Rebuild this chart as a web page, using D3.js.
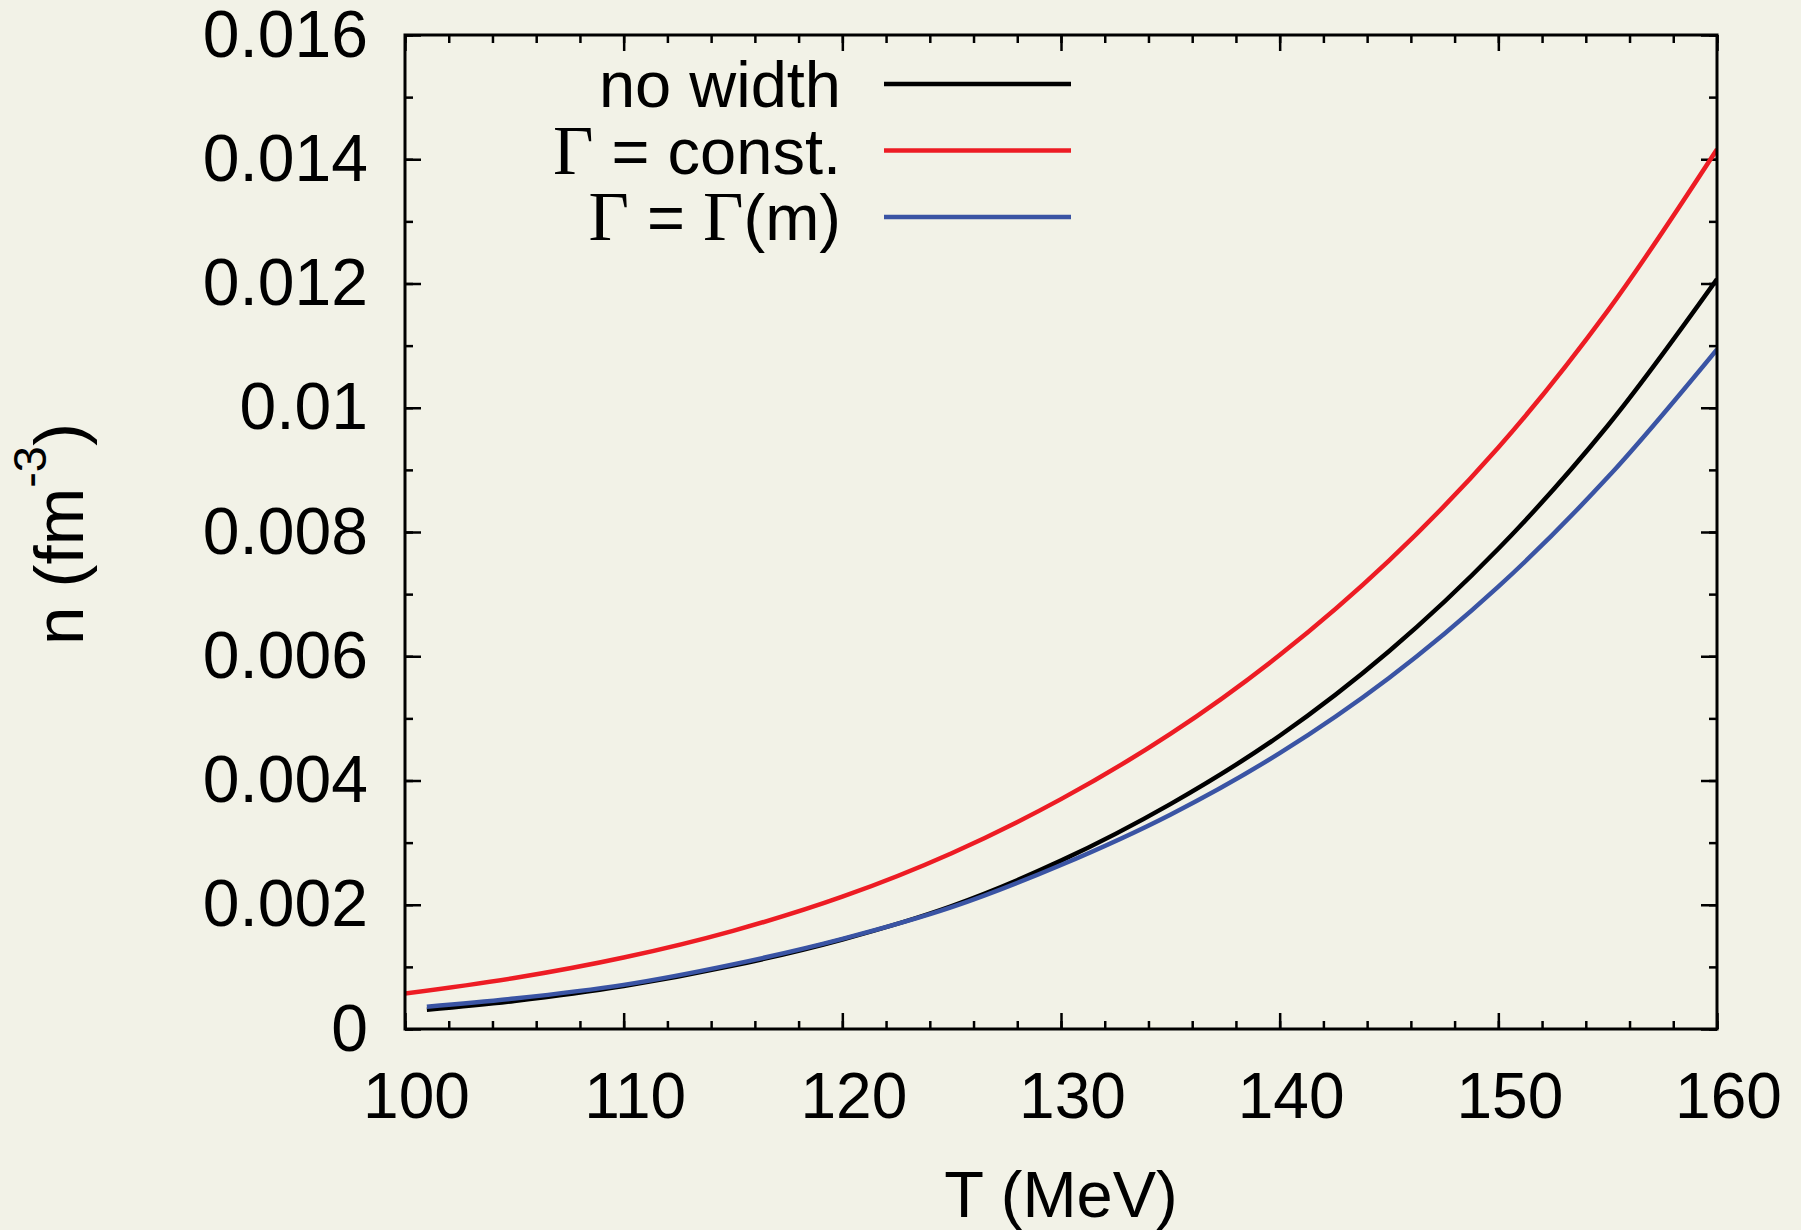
<!DOCTYPE html>
<html>
<head>
<meta charset="utf-8">
<script src="https://cdn.jsdelivr.net/npm/d3@7"></script>
<style>
  html, body { margin: 0; padding: 0; background: #f2f2e7; }
  svg { display: block; }
  text { font-family: "Liberation Sans", Arial, sans-serif; fill: #000; }
</style>
</head>
<body>
<script>
// temperatures (MeV)
const tempsConst = [100, 105, 110, 115, 120, 125, 130, 135, 140, 145, 150, 155, 160];
const tempsWidth = [101, 105, 110, 115, 120, 125, 130, 135, 140, 145, 150, 155, 160];

// densities n (fm^-3)
const nConst   = [0.00057, 0.00082, 0.00115, 0.00158, 0.00213, 0.00283, 0.00370, 0.00475, 0.00602, 0.00754, 0.00936, 0.01156, 0.01416];
const nNoWidth = [0.00031, 0.00045, 0.00069, 0.00102, 0.00144, 0.00198, 0.00271, 0.00362, 0.00472, 0.00608, 0.00773, 0.00971, 0.01207];
const nGammaM  = [0.00036, 0.00049, 0.00071, 0.00104, 0.00145, 0.00196, 0.00264, 0.00345, 0.00444, 0.00565, 0.00712, 0.00888, 0.01094];

const xTicks = [100, 110, 120, 130, 140, 150, 160];
const yTicks = [0, 0.002, 0.004, 0.006, 0.008, 0.01, 0.012, 0.014, 0.016];

const W = 1801, H = 1230;
const pLeft = 405, pRight = 1717, pTop = 35, pBottom = 1029;

const svg = d3.select("body").append("svg")
  .attr("width", W)
  .attr("height", H);

svg.append("rect").attr("width", W).attr("height", H).attr("fill", "#f2f2e7");

const x = d3.scaleLinear().domain([100, 160]).range([pLeft, pRight]);
const y = d3.scaleLinear().domain([0, 0.016]).range([pBottom, pTop]);

const xMinor = d3.range(100, 161, 2);
const yMinor = d3.range(0, 17).map(i => i * 0.001);

// tick marks (all pointing inward), labels only on bottom / left
const tickAxis = (axis, tr) => {
  const g = svg.append("g").attr("transform", tr).call(axis);
  g.select(".domain").remove();
  g.selectAll("line").attr("stroke", "#000").attr("stroke-width", 2.5);
  return g;
};

tickAxis(d3.axisBottom(x).tickValues(xMinor).tickSizeInner(-8).tickSizeOuter(0).tickFormat(""), `translate(0,${pBottom})`);
tickAxis(d3.axisTop(x).tickValues(xMinor).tickSizeInner(-8).tickSizeOuter(0).tickFormat(""), `translate(0,${pTop})`);
tickAxis(d3.axisLeft(y).tickValues(yMinor).tickSizeInner(-8).tickSizeOuter(0).tickFormat(""), `translate(${pLeft},0)`);
tickAxis(d3.axisRight(y).tickValues(yMinor).tickSizeInner(-8).tickSizeOuter(0).tickFormat(""), `translate(${pRight},0)`);

const xAx = tickAxis(d3.axisBottom(x).tickValues(xTicks).tickSizeInner(-16).tickSizeOuter(0).tickPadding(44), `translate(0,${pBottom})`);
xAx.selectAll("text").attr("font-size", 64).attr("dx", 11)
  .attr("font-family", "Liberation Sans, Arial, sans-serif").attr("fill", "#000");
tickAxis(d3.axisTop(x).tickValues(xTicks).tickSizeInner(-16).tickSizeOuter(0).tickFormat(""), `translate(0,${pTop})`);

const yAx = tickAxis(d3.axisLeft(y).tickValues(yTicks).tickSizeInner(-16).tickSizeOuter(0).tickPadding(37)
  .tickFormat(d => String(+d.toFixed(3))), `translate(${pLeft},0)`);
yAx.selectAll("text").attr("font-size", 66).attr("font-family", "Liberation Sans, Arial, sans-serif").attr("fill", "#000");
tickAxis(d3.axisRight(y).tickValues(yTicks).tickSizeInner(-16).tickSizeOuter(0).tickFormat(""), `translate(${pRight},0)`);

// curves
svg.append("clipPath").attr("id", "clip")
  .append("rect").attr("x", pLeft).attr("y", pTop).attr("width", pRight - pLeft).attr("height", pBottom - pTop);

const line = d3.line().x(d => x(d[0])).y(d => y(d[1])).curve(d3.curveCatmullRom.alpha(0.5));

const series = [
  { name: "const", t: tempsConst, v: nConst, color: "#ed1c24" },
  { name: "nowidth", t: tempsWidth, v: nNoWidth, color: "#000000" },
  { name: "gammam", t: tempsWidth, v: nGammaM, color: "#3a54a4" }
];

svg.append("g").attr("clip-path", "url(#clip)")
  .selectAll("path")
  .data(series)
  .enter()
  .append("path")
  .attr("d", s => line(s.t.map((t, i) => [t, s.v[i]])))
  .attr("fill", "none")
  .attr("stroke", s => s.color)
  .attr("stroke-width", 4.5);

// frame
svg.append("rect")
  .attr("x", pLeft).attr("y", pTop)
  .attr("width", pRight - pLeft).attr("height", pBottom - pTop)
  .attr("fill", "none").attr("stroke", "#000").attr("stroke-width", 3);

// legend
const legend = [
  { label: ["no width"], color: "#000000" },
  { label: ["Γ", " = const."], color: "#ed1c24" },
  { label: ["Γ", " = ", "Γ", "(m)"], color: "#3a54a4" }
];
const legX = 841, legY0 = 84, legDy = 66.5;
legend.forEach((d, i) => {
  const ly = legY0 + i * legDy;
  svg.append("line")
    .attr("x1", 884).attr("x2", 1071)
    .attr("y1", ly).attr("y2", ly)
    .attr("stroke", d.color).attr("stroke-width", 4.5);
  const t = svg.append("text")
    .attr("x", legX).attr("y", ly + 23)
    .attr("text-anchor", "end")
    .attr("font-size", 65);
  d.label.forEach(part => {
    const isG = part === "Γ";
    t.append("tspan")
      .attr("font-family", isG ? "Liberation Serif, Times New Roman, serif" : "Liberation Sans, Arial, sans-serif")
      .attr("font-size", isG ? 70 : 65)
      .text(part);
  });
});

// axis titles
svg.append("text")
  .attr("x", (pLeft + pRight) / 2).attr("y", 1217)
  .attr("text-anchor", "middle")
  .attr("font-size", 65)
  .text("T (MeV)");

const yt = svg.append("text")
  .attr("transform", `translate(83,${(pTop + pBottom) / 2 + 2}) rotate(-90)`)
  .attr("text-anchor", "middle")
  .attr("font-size", 69);
yt.append("tspan").text("n (fm");
yt.append("tspan").attr("font-size", 47).attr("dy", -37).text("-3");
yt.append("tspan").attr("dy", 37).text(")");
</script>
</body>
</html>
